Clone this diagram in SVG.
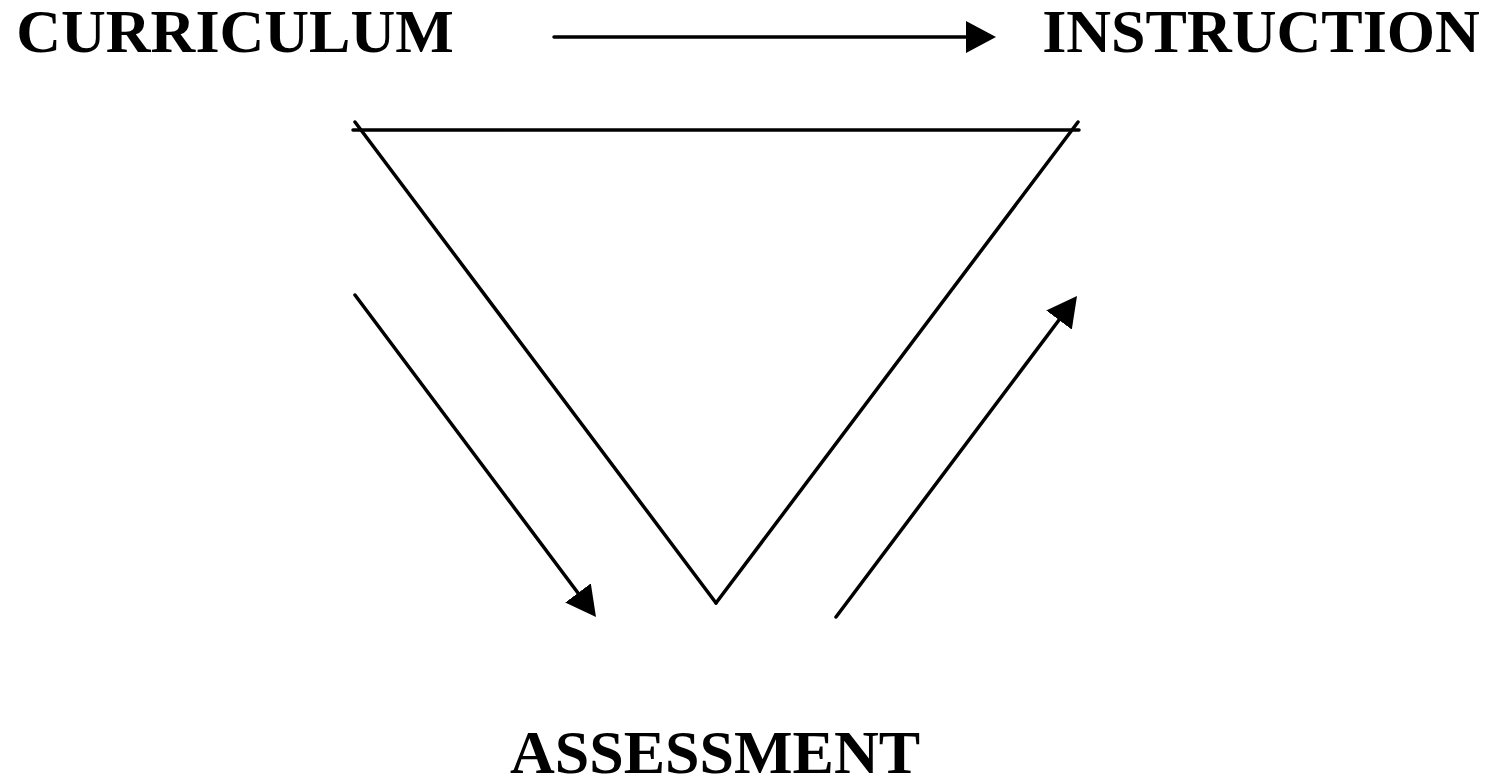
<svg xmlns="http://www.w3.org/2000/svg" width="1497" height="779" viewBox="0 0 1497 779">
  <style>
    .label { font-family: "Liberation Serif", "Times New Roman", serif; font-weight: bold; font-size: 62px; fill: #000; text-anchor: middle; }
    .ln { stroke: #000; stroke-width: 3.5; fill: none; stroke-linecap: round; }
  </style>
  <defs>
    <marker id="arrow" viewBox="0 0 30 32" refX="10" refY="16" markerWidth="30" markerHeight="32" markerUnits="userSpaceOnUse" orient="auto">
      <path d="M0,0 L30,16 L0,32 Z" fill="#000"/>
    </marker>
  </defs>
  <rect width="1497" height="779" fill="#fff"/>
  <g id="curriculum"><text class="label" x="235" y="52">CURRICULUM</text></g>
  <g id="instruction"><text class="label" x="1261" y="52">INSTRUCTION</text></g>
  <g id="assessment"><text class="label" x="715" y="773">ASSESSMENT</text></g>
  <g id="triangle">
    <line class="ln" x1="353" y1="130" x2="1079" y2="130"/>
    <line class="ln" x1="355" y1="122" x2="716" y2="603"/>
    <line class="ln" x1="1078" y1="122" x2="716" y2="603"/>
  </g>
  <g id="connectors">
    <line class="ln" x1="554" y1="37" x2="976" y2="37" marker-end="url(#arrow)"/>
    <line class="ln" x1="355" y1="295" x2="584" y2="601" marker-end="url(#arrow)"/>
    <line class="ln" x1="836" y1="617" x2="1065" y2="312" marker-end="url(#arrow)"/>
  </g>
</svg>
